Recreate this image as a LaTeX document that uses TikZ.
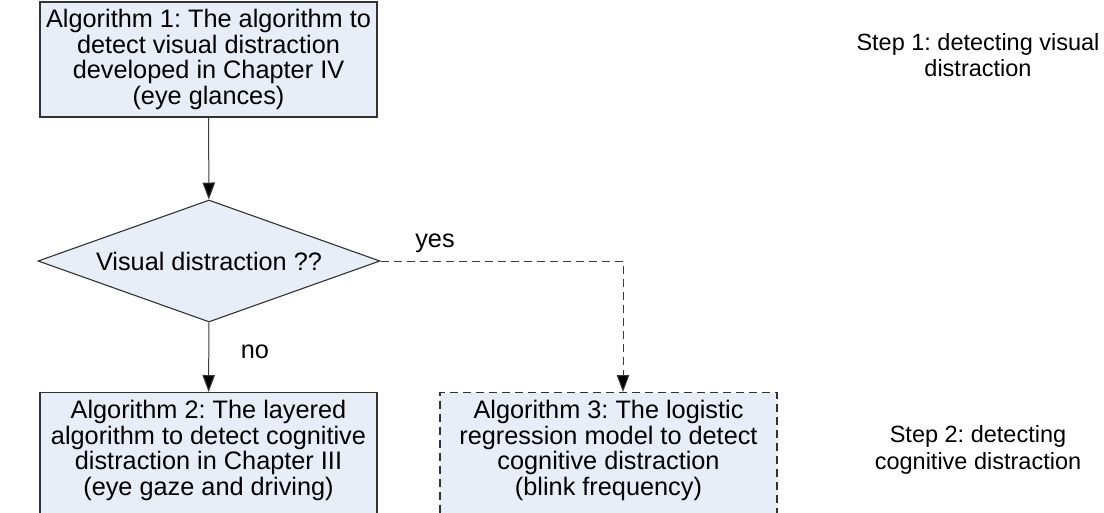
\documentclass[tikz,border=0pt]{standalone}
\usepackage{fontspec}
\setmainfont{Liberation Sans}
\frenchspacing
\usetikzlibrary{shapes.geometric,arrows.meta}
\definecolor{boxfill}{RGB}{232,238,247}
\definecolor{edge}{RGB}{50,50,50}
\definecolor{wire}{RGB}{60,60,60}
\tikzset{
  every node/.style={font=\fontsize{25.3}{25.5}\selectfont},
  algbox/.style={rectangle, draw=edge, fill=boxfill, line width=1.1pt,
    minimum width=337pt, minimum height=115pt, align=center, inner sep=0pt},
  lowbox/.style={algbox, anchor=north, minimum height=124pt, text depth=13pt},
  decision/.style={diamond, draw=edge, fill=boxfill, line width=1.1pt,
    minimum width=342pt, minimum height=122pt, aspect=2.8, inner sep=0pt},
  flow/.style={draw=wire, line width=1pt,
    -{Triangle[width=12.5pt,length=17pt,fill=black]}},
  dashflow/.style={flow, dash pattern=on 8pt off 5pt},
  steptext/.style={align=center, inner sep=0pt,
    font=\fontsize{23.5}{26.5}\selectfont},
  lbl/.style={inner sep=0pt}
}
\begin{document}
\begin{tikzpicture}[x=1pt,y=-1pt]
  \useasboundingbox[fill=white] (0,0) rectangle (1104,512);

  % flowchart boxes
  \node[algbox] (alg1) at (208.5,59.5)
    {Algorithm 1: The algorithm to\\detect visual distraction\\developed in Chapter IV\\(eye glances)};
  \node[decision] (dec) at (209,261) {Visual distraction ??};
  \node[lowbox] (alg2) at (208.5,392)
    {Algorithm 2: The layered\\algorithm to detect cognitive\\distraction in Chapter III\\(eye gaze and driving)};
  \node[lowbox, dash pattern=on 8pt off 5pt] (alg3) at (608.5,392)
    {Algorithm 3: The logistic\\regression model to detect\\cognitive distraction\\(blink frequency)};

  % connectors
  \coordinate (turn) at (623,261);
  \draw[flow] (alg1) -- (dec);
  \draw[flow] (dec) -- (alg2);
  \draw[dashflow] (dec.east) -- (turn) -- (turn |- alg3.north);

  % branch labels
  \node[lbl] (yes) at (435,243) {yes};
  \node[lbl] (no) at (255,352) {no};

  % stage annotations
  \node[steptext] (s1) at (978,55) {Step 1: detecting visual\\distraction};
  \node[steptext] (s2) at (978,450) {Step 2: detecting\\cognitive distraction};
\end{tikzpicture}
\end{document}
